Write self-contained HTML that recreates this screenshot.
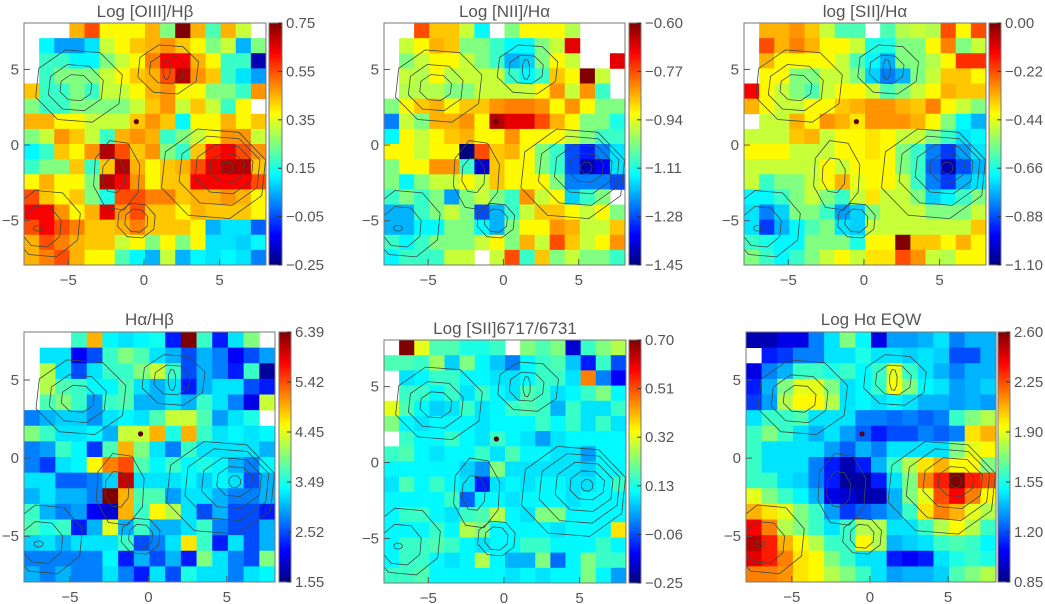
<!DOCTYPE html>
<html><head><meta charset="utf-8">
<style>
html,body{margin:0;padding:0;background:#fff;}
svg{display:block;font-family:"Liberation Sans",sans-serif;}
</style></head>
<body>
<svg id="fig" width="1045" height="604" viewBox="0 0 1045 604" xmlns="http://www.w3.org/2000/svg"></svg>
<script>
const W = null;
const oiiiGrid = [
[W,W,W,7,8,6.3,6.3,6.3,7,5,10,7,4.5,7,5.7,W],
[W,3.7,2.8,2.8,3.5,5.7,6.3,6.8,7,7.3,6.8,6.3,5,5.7,3,5],
[W,4.3,4.3,3.7,3.7,5,5.7,6.3,7.5,8.8,8.8,7,6.3,4.3,4.3,0.5],
[W,4.3,5,5,5,5.7,6.3,6.8,7,8,9.5,7.3,6.8,4.3,3.5,2.8],
[6.8,4.3,4.3,5,4.3,5.7,5.7,6.3,7,7.3,6.3,6.3,5,5,4.3,7.3],
[5,4.3,4.3,5,5,5,5,5.7,6.8,7.3,5.7,6.8,5.7,4.3,6.3,W],
[7,7,6.3,6.3,5.7,5.7,5.7,6.8,7.3,6.8,3.7,6.3,6.3,7,6.3,6.8],
[5,5.7,7.3,6.8,5.7,4.3,7,7.3,7,4.3,5,5.7,6.3,7.3,7.3,5.7],
[3.7,4.3,6.8,6.3,7.3,9.5,8,6.8,7.3,5,4.3,6.8,8.5,8.8,8,7.3],
[4.3,5,5,6.8,4.3,6.8,9.5,7,6.3,6.8,7,8,9,9.5,9.5,6.8],
[6.3,7,6.3,6.3,5,9.5,8.8,7.3,6.3,6.8,6.8,8.8,8.8,8.8,8.8,8],
[8,6.8,6.3,6.8,5,4,8,8,7.5,7.5,6.8,7,7,7.3,7,6.3],
[8.8,8.8,7.3,6.3,7,9,7.3,8,6.8,6.8,6.3,7,6.8,6.8,6.8,6.3],
[8,8.8,8,7.5,6.8,6.8,7,7.5,6.8,6.8,6.8,6.3,3,3.5,3.5,2.2],
[7,8,7.5,7,6.8,6.8,5.7,6.3,5,6.3,5,6.3,3.5,3.5,3.3,3.7],
[7,7.5,8,7,6.3,6.3,4.5,3.7,3,5.7,3,3.7,3.5,3.7,3.5,2.5]];
const niiGrid = [
[W,W,8,6.8,6.8,5.7,3.7,W,5,6.3,6.3,6.3,5.5,W,W,W],
[W,5.7,6.3,7,6.8,5,5,4.3,3.7,3.7,5,5.7,9,W,W,W],
[W,5,5.7,6.3,6.3,5.7,5,4.3,3,3.3,5,6.3,5.7,W,W,9],
[W,5.7,5.5,6.3,5.5,5.7,5.7,5.7,4.3,3.7,4.3,6.8,6.3,10,5.7,W],
[W,5.5,5.5,5.5,5,5,5.7,5.7,5.7,5.7,6.3,7.3,5.7,7.3,4.3,W],
[5,6.3,6.8,7,6.3,6.8,6.8,7.3,7.5,7.5,7.3,6.3,7.3,6.3,5,5],
[2.5,5.7,5,7,7,7.3,6.3,9.5,9,9,8,7,6.3,5,5,4],
[3.7,6.3,5.7,6.3,6.8,7,6.3,6.3,7.3,6.3,6.3,6.3,5.7,5,4.3,4.3],
[6.3,6.3,5.7,6.3,6.3,0,8,6.8,7,6.3,5,4.3,2,1.5,2.5,3.5],
[5,6.3,6.3,7.3,7.3,4.3,0.8,6.8,6.3,6.3,5,4.3,2,0.5,1.2,3.5],
[5,3.7,5,5.7,5.7,6.3,5.7,6.8,6.3,6.3,6.3,5,2.5,2.5,2.5,2],
[4.3,5,4.3,5,2.8,5,5.7,5,4.3,7.3,5.7,6.3,3.3,4.3,5,W],
[3,3,4.3,5,5.7,5,2,3,4.3,5.7,6.8,6.8,6.3,5.7,6.3,5],
[3,3,3.7,3.7,5,5,3.7,3,5,6.3,6.3,7.3,7,5.7,5.7,6.8],
[4.3,3.7,4.3,5,5,5,5.7,6.3,5,7,5.7,8,6.8,5.7,6.3,7.3],
[3.7,4.3,4.3,4.3,5.7,5.7,W,5.7,8,4.3,6.8,5,5.7,5,5,4.3]];
const siiGrid = [
[W,7,7,7.3,6.8,5.7,4.5,4.5,W,4.5,5.5,5.7,5.5,8,6.3,8],
[W,8,7,7.5,7,6.3,6.3,5.7,4,4,5,5,6.3,7.5,5,5.7],
[W,7,6.3,6.3,6.3,6.3,5.7,4.5,3.7,3,5,5,5.5,6.3,8.3,8.3],
[W,6.3,6.3,5,5,5.7,5.7,5,3.3,2.5,3,5,5.7,6.8,6.8,6.3],
[8.8,6.3,5.7,5,4.5,5.7,6.3,6.3,5.7,4.5,5,5.7,6.3,7,6.8,6.8],
[7,6.3,5.7,5.7,6.3,6.3,6.8,7,7.3,7.3,7,6.8,7.5,6.3,5.7,5],
[W,5.7,5.7,7,6.3,7.3,7,6.5,7.3,7.3,7.3,7,6.3,5,3.7,3],
[5.7,5.7,5.7,6.8,7,5.7,6.3,6.3,6.5,6.3,5.7,5.7,5,4.3,3.5,3.7],
[6.3,6.3,6.3,5.7,5.7,5.7,6.3,6.3,6.5,6.3,5,4.3,2.5,1.8,2.8,3.5],
[5.7,5.7,5.7,5.7,5.7,6.3,5.7,6.3,6.3,6.3,5,4.3,2.2,0.5,2,3],
[5.7,4.3,5,5,5.7,6.3,7,6,6.3,6.3,5.7,4.3,2.5,1.8,3,3.5],
[3.7,3.7,4.3,5,5.7,5,4.3,5.7,6.5,5.7,5.7,5,3.3,3.7,4.3,5],
[3.5,2.5,3.3,5,5,4.3,2.8,3.3,5,5.7,5.7,5.7,5,5,5,5.7],
[3.5,1.8,3,3.7,4.5,5,3.5,3.3,5.7,5.7,5.7,5.7,5.7,5.7,5.7,6.8],
[4.3,4,3.7,3.7,5,5,5,4,6.3,6.3,10,6.8,6.8,6.3,7,6.3],
[5,4.3,3.7,4.3,5,5.7,6.3,5.7,6.5,6.5,8,7.3,5.7,5.5,6.3,6.3]];
const balmerGrid = [
[W,W,W,4.3,7,3.7,3.5,3.7,3.9,1.5,10,4.3,1.5,3.5,5,W],
[W,3.5,3.5,1.2,2,4.3,5,4.5,3.5,3,2,3,2.5,1.2,2,2.8],
[W,5.5,3.5,2,3.5,4.3,4.3,5,5.7,4.3,2,3,2.5,1.5,4.3,0.3],
[W,5.5,4.5,4.3,3.7,3.7,4.5,3.5,3,3.5,1.5,3,3.5,3.5,2,1.5],
[W,4.5,5,4.3,2.7,4.3,4.5,3,3,3.5,3,4.3,3.5,2.5,1,5.7],
[2.5,3,3.3,3.3,2.7,3.5,3.7,3.5,4.5,5.7,5.7,4.5,2.8,3.5,4,W],
[5,4.3,3.5,3.5,3.7,3,5.7,5.7,7,4,7,4.3,3.5,3.7,3.5,3.7],
[2.5,2.8,4.3,3.7,1.8,4.5,7,5,3.5,2.5,4.3,3.5,3.5,3.5,3.5,3],
[2.5,1.8,3.5,3.7,6.3,7.5,8,4.5,3.7,4.3,3.7,4,3.7,3,2.5,3.7],
[3.5,3.5,2.2,2.2,2.5,3.3,9.3,3.5,3.5,3.5,3.7,3.3,3.7,3.5,2,3],
[3,3.5,3,3,2.5,10,7,4.5,4.5,2.8,3.5,3.5,3,2.5,2.5,3],
[4.3,3,2.5,2.8,1.2,0.8,7,4.3,6.3,5.5,3.5,2,3,2,2,1.5],
[4.5,4,4.3,1.5,3,6,3,4.3,3,3,3.5,4.3,2.5,2,2,3],
[3.3,3.5,3,3.5,3.5,3.5,4.3,2,2.5,3.5,6.5,4.3,1.5,3.5,2,3],
[2.5,2.5,2.5,2.5,2.5,3.7,1.5,3,2,3,1.5,5,3.5,2.5,2,5],
[3,2.5,3,2.5,2.5,3.5,2.5,1.5,3.5,2,4,3.5,3.5,2.5,3.5,3.7]];
const sratioGrid = [
[W,10,6,4.5,4.5,4,4,4.3,W,5,4.5,5,0.8,4.3,5,5.5],
[4.5,4.5,4.3,5.3,3.3,5,3.7,3.2,2.5,3.7,4.3,4.5,3.2,1.5,4.3,2],
[W,3.5,3.7,4.3,4.3,3.7,3.7,3.5,3.5,3.7,4.3,4.3,3.5,7.5,2.5,1.2],
[W,4.3,4.3,3.7,4.3,3.5,4.3,3.7,3.5,4.5,4.3,3.5,3.7,4.3,5,3.7],
[6,4.5,3.7,3.3,3.5,4.3,3.5,3.7,4.3,4.5,4.3,3,4.3,3.5,3.5,4.3],
[5,3.7,3.5,3.7,3.7,3.7,3.5,3.7,3.7,3.7,4.3,3.7,4.3,3.5,4.3,3.5],
[W,4.3,3.7,3.7,4.3,3.7,3.5,4.3,3.7,3.5,2.8,3.5,3.7,3.7,3.7,3.7],
[4.3,4.5,3.7,3.5,3.7,3.7,4.3,3.5,4.5,3.7,3.7,3.5,3.5,2.8,3.7,3.7],
[3.7,3.7,3.7,3.7,3.7,3.3,2.7,5,3.5,3.5,3.5,3.5,3.5,3.3,3.7,3.7],
[3.5,4.5,3.7,4.3,3.7,3.5,1.5,3.5,3.7,3.5,3.7,3.7,3.5,3.5,3.7,4.3],
[3.7,3.7,3.7,3.7,4.3,2.2,3.7,3.7,3.5,3.7,3.7,3.7,3.5,3.7,3.7,3.7],
[3.7,4.3,4.3,3.7,3.5,4.3,4.5,5.5,3.7,3.5,5,5,3.7,3.7,3.7,3.7],
[3.7,3.7,3.7,4.3,3.7,5.5,5,3.7,3.7,3.7,3.7,3.5,3.7,3.7,3.7,6.5],
[3.7,4.3,4.3,4.5,4.3,3.7,3.5,3.7,3.7,4.3,4.3,3.7,3.7,3.7,4.3,3.7],
[3.7,4.3,4.3,3.7,3.5,3.7,5.5,3.7,3,3,5,2.3,3.7,5,4.3,4.3],
[4.3,4.3,4.5,3.7,3.7,3.7,3.7,3.7,3.5,3.7,3.5,3.7,3.7,5,3.7,2.8]];
const eqwGrid = [
[0.5,0.5,1,1,2.5,3.5,5,3.7,1,2.8,2.8,3,3.5,2.5,3,3],
[W,1.5,1.8,2.5,2.5,3.5,3.5,4,3.5,3.5,3.3,3.5,3.3,2,2,3],
[1,2.5,3,4.3,4.3,4,4.3,3.7,4.3,6,4.3,3.5,3,2.5,3,3],
[1.5,3,5,6,6,5,3.5,3.7,4.3,6.2,5,3.7,3.5,2.8,3,3.3],
[1.8,2.8,5.5,6.3,6.3,5.5,3.5,3.7,3.5,3.7,3.5,3,3,2.8,3,2.8],
[3.5,4.3,4.3,4.5,3.5,3.5,3.5,2.5,2.5,2.3,2.5,2.2,2.5,4.3,5,5.5],
[4.3,5,4.3,3.5,3,3.5,2.8,2.2,1.5,2,2,2.5,2.2,2.5,6.5,7],
[4.3,3.5,3.5,3.5,3.5,2.8,2.2,3,2.5,3.5,3.5,3.5,3.5,5,6,6.3],
[4.3,3.5,3.5,3.5,2.5,1.5,0.5,1.5,3,4.3,5.5,6.5,7,6.3,6.3,5],
[4.3,4.3,3.5,3.3,2.5,1.5,0.3,0.3,1.5,3.5,5,7.5,8.5,10,8.5,8],
[6,5,4.3,3.7,3,1,0.8,0.5,0.5,3,5,6,8,8.8,7.5,6.3],
[7,6.5,6,5,4.3,2.8,1.8,2.2,2.5,3,4.3,6.5,7.5,7,6,5.5],
[8.8,7.5,5.5,5,4.3,3.5,4.3,5.5,5.5,3.5,3.5,4.3,5.5,6.3,5.5,4.3],
[9.5,8.5,7,6.3,5.5,4.3,4.3,6.3,5.5,3,3.3,3.5,4.3,4.5,4.3,3.7],
[9,8.5,7.5,6.5,6.3,5,4.3,3.5,3.5,1.5,1.2,1.5,3.5,4,4.3,4],
[7.5,7.5,7.3,6.5,6.3,5.5,5,4.3,3.5,2.8,3,3,3.3,4.5,5,5.5]];
const oiiiTicks = ["-0.25","-0.05","0.15","0.35","0.55","0.75"];
const niiTicks = ["-1.45","-1.28","-1.11","-0.94","-0.77","-0.60"];
const siiTicks = ["-1.10","-0.88","-0.66","-0.44","-0.22","0.00"];
const balmerTicks = ["1.55","2.52","3.49","4.45","5.42","6.39"];
const sratioTicks = ["-0.25","-0.06","0.13","0.32","0.51","0.70"];
const eqwTicks = ["0.85","1.20","1.55","1.90","2.25","2.60"];
const axisTicks = [-5, 0, 5];
const contourRings = [
[5.5,-1.5,0.4,0.4],[5.5,-1.5,1.2,1.0],[5.3,-1.6,2.0,1.7],[5.0,-1.7,2.8,2.4],[4.6,-1.9,3.6,3.1],
[1.5,5.0,0.25,0.7],[1.5,5.0,1.2,1.0],[1.6,5.0,2.1,1.7],
[-4.5,3.8,1.1,0.9],[-4.5,3.8,1.9,1.6],[-4.3,3.9,3.0,2.5],
[-7.0,-5.5,0.3,0.2],[-6.8,-5.4,1.4,1.4],[-6.5,-5.2,2.4,2.3],
[-0.5,-5.0,0.8,0.8],[-0.5,-5.0,1.3,1.2],
[-2.0,-2.0,0.8,1.2],[-1.8,-2.0,1.6,2.4]];
const nucleus = [-0.5, 1.55];

const panels = [
 {name:'oiii-hbeta', title:'Log [OIII]/Hβ', grid:oiiiGrid, ticks:oiiiTicks, x:24,y:23,w:242,h:242,cb:269,cbw:13,ty:17},
 {name:'nii-halpha', title:'Log [NII]/Hα', grid:niiGrid, ticks:niiTicks, x:384,y:23,w:241,h:242,cb:629,cbw:12,ty:17},
 {name:'sii-halpha', title:'log [SII]/Hα', grid:siiGrid, ticks:siiTicks, x:744,y:23,w:242,h:242,cb:989,cbw:12,ty:17},
 {name:'halpha-hbeta', title:'Hα/Hβ', grid:balmerGrid, ticks:balmerTicks, x:24,y:332,w:251,h:250,cb:279,cbw:12,ty:325},
 {name:'sii-ratio', title:'Log [SII]6717/6731', grid:sratioGrid, ticks:sratioTicks, x:384,y:340,w:242,h:243,cb:629,cbw:12,ty:334},
 {name:'halpha-eqw', title:'Log Hα EQW', grid:eqwGrid, ticks:eqwTicks, x:746,y:332,w:250,h:250,cb:998,cbw:12,ty:325}
];
const NS='http://www.w3.org/2000/svg';
const svg=document.getElementById('fig');
function mk(tag,attrs,parent){const e=document.createElementNS(NS,tag);for(const k in attrs)e.setAttribute(k,attrs[k]);(parent||svg).appendChild(e);return e;}
function jet(t){t=Math.max(0,Math.min(1,t));const c=v=>Math.round(255*Math.max(0,Math.min(1,v)));
 return `rgb(${c(1.5-Math.abs(4*t-3))},${c(1.5-Math.abs(4*t-2))},${c(1.5-Math.abs(4*t-1))})`;}
const DMIN=-7.93, DMAX=8.07;
const defs=mk('defs',{});
const lg=mk('linearGradient',{id:'jetg',x1:0,y1:1,x2:0,y2:0},defs);
for(let i=0;i<=32;i++){mk('stop',{offset:(i/32),'stop-color':jet(i/32)},lg);}
panels.forEach(p=>{
 const g=mk('g',{});
 
 
 const sx=v=>p.x+(v-DMIN)/(DMAX-DMIN)*p.w;
 const sy=v=>p.y+(DMAX-v)/(DMAX-DMIN)*p.h;
 const n=p.grid.length, cw=p.w/16, ch=p.h/n;
 p.grid.forEach((row,r)=>row.forEach((v,c)=>{
   if(v===null)return;
   const x0=p.x+c*cw, y0=p.y+r*ch;
   const rc=mk('rect',{x:x0.toFixed(2),y:y0.toFixed(2),width:(cw+0.4).toFixed(2),height:(ch+0.4).toFixed(2),fill:jet(v/10)},g);
   
   
 }));
 const cg=mk('g',{fill:'none',stroke:'#3c4a44',"stroke-width":0.8},g);
 
 
 const cp=mk('clipPath',{id:'clip-'+p.name},defs);
 mk('rect',{x:p.x,y:p.y,width:p.w,height:p.h},cp);
 cg.setAttribute('clip-path','url(#clip-'+p.name+')');
 contourRings.forEach(rg=>{
   const pts=[];for(let k=0;k<8;k++){const a=k*Math.PI/4+0.3;pts.push(sx(rg[0]+rg[2]*Math.cos(a)).toFixed(1)+','+sy(rg[1]+rg[3]*Math.sin(a)).toFixed(1));}
   const pl=mk('polygon',{points:pts.join(' ')},cg);
   
   
 });
 const dot=mk('circle',{cx:sx(nucleus[0]),cy:sy(nucleus[1]),r:2.6,fill:'#5a0010'},g);
 
 
 const fr=mk('rect',{x:p.x,y:p.y,width:p.w,height:p.h,fill:'none',stroke:'#777','stroke-width':1},g);
 
 
 axisTicks.forEach(t=>{
   const xl=mk('text',{x:sx(t),y:p.y+p.h+20,'font-size':15,fill:'#555','text-anchor':'middle'},g);
   xl.textContent=t<0?'−'+(-t):String(t);
   
   
   const yl=mk('text',{x:p.x-5,y:sy(t)+5,'font-size':15,fill:'#555','text-anchor':'end'},g);
   yl.textContent=t<0?'−'+(-t):String(t);
   
   
   mk('line',{x1:sx(t),x2:sx(t),y1:p.y+p.h,y2:p.y+p.h-6,stroke:'#555'},g);
   mk('line',{x1:p.x,x2:p.x+6,y1:sy(t),y2:sy(t),stroke:'#555'},g);
 });
 const tt=mk('text',{x:p.x+p.w/2,y:p.ty,'font-size':17,fill:'#555','text-anchor':'middle'},g);
 tt.textContent=p.title;
 
 
 const cb=mk('rect',{x:p.cb,y:p.y,width:p.cbw,height:p.h,fill:'url(#jetg)',stroke:'#777','stroke-width':1},g);
 
 
 p.ticks.forEach((lab,i)=>{
   const yy=p.y+p.h-i*p.h/(p.ticks.length-1);
   mk('line',{x1:p.cb+p.cbw-4,x2:p.cb+p.cbw,y1:yy,y2:yy,stroke:'#333'},g);
   const tl=mk('text',{x:p.cb+p.cbw+4,y:yy+5,'font-size':15,fill:'#555'},g);
   tl.textContent=lab.replace('-','−');
   
   
 });
});
</script>
</body></html>
